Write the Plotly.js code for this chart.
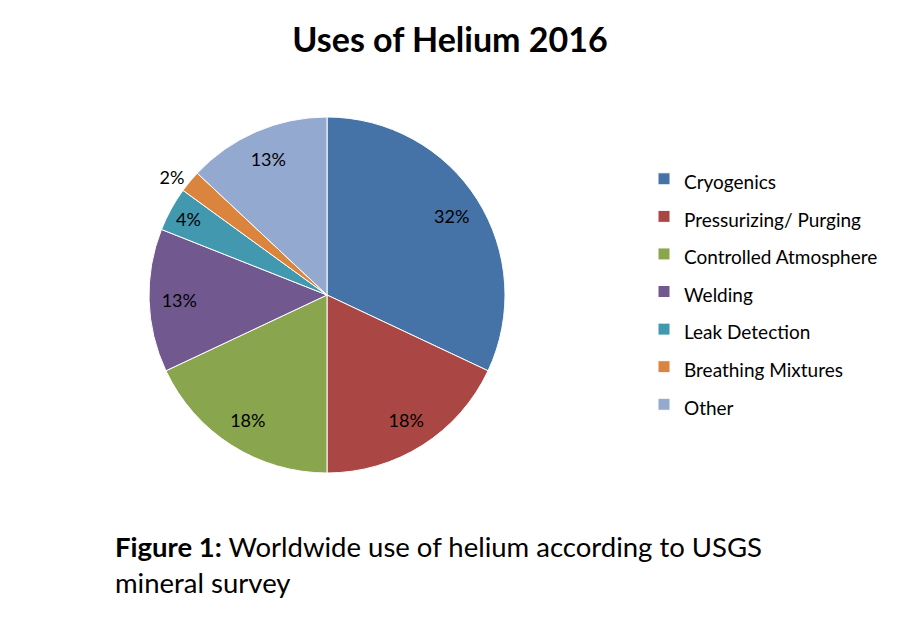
<!DOCTYPE html>
<html>
<head>
<meta charset="utf-8">
<script src="https://cdn.plot.ly/plotly-3.0.1.min.js"></script>
<style>html,body{margin:0;padding:0;background:#fff;}#chart{width:900px;height:618px;}</style>
</head>
<body>
<div id="chart"></div>
<script>
const categories = ["Cryogenics", "Pressurizing/ Purging", "Controlled Atmosphere", "Welding", "Leak Detection", "Breathing Mixtures", "Other"];
const shares = [32, 18, 18, 13, 4, 2, 13];
const colors = ["#4572A7", "#AA4643", "#89A54E", "#71588F", "#4198AF", "#DB843D", "#93A9CF"];
const labelPositions = ["inside", "inside", "inside", "inside", "inside", "outside", "inside"];

const FONT = "Lato, 'Open Sans', sans-serif";
const DOMAIN = {x: [149/900, 505/900], y: [1 - 473/618, 1 - 117/618]};

// Filled slices + legend
const slices = {
  type: "pie",
  labels: categories.map(c => '<span style="font-size:19px">' + c + '</span>'),
  values: shares,
  sort: false,
  direction: "clockwise",
  rotation: 0,
  marker: {colors: colors, line: {color: "#ffffff", width: 1}},
  textinfo: "none",
  domain: DOMAIN,
  hoverinfo: "label+percent"
};

// Transparent ring carrying the percentage labels (places them near the rim like the original)
const labelRing = {
  type: "pie",
  labels: categories,
  values: shares,
  sort: false,
  direction: "clockwise",
  rotation: 0,
  hole: 0.66,
  showlegend: false,
  marker: {colors: categories.map(() => "rgba(0,0,0,0)"), line: {width: 0}},
  texttemplate: "%{value}%",
  textposition: labelPositions,
  insidetextorientation: "horizontal",
  textfont: {family: FONT, size: 18, color: "#000000"},
  outsidetextfont: {family: FONT, size: 18, color: "#000000"},
  domain: DOMAIN,
  hoverinfo: "skip"
};

const layout = {
  width: 900, height: 618,
  margin: {l: 0, r: 0, t: 0, b: 0},
  paper_bgcolor: "#ffffff",
  plot_bgcolor: "#ffffff",
  showlegend: true,
  uniformtext: {minsize: 18, mode: "show"},
  title: {text: "<b>Uses of Helium 2016</b>", font: {family: FONT, size: 34, color: "#000000"}, x: 0.5, xanchor: "center", y: 1 - 40/618, yanchor: "middle"},
  legend: {
    x: 644/900, xanchor: "left", y: 1 - 155/618, yanchor: "top",
    font: {family: FONT, size: 26.6, color: "#000000"},
    itemclick: false, itemdoubleclick: false,
    bgcolor: "rgba(0,0,0,0)"
  },
  annotations: [{
    xref: "paper", yref: "paper",
    x: 113/900, xanchor: "left",
    y: 1 - 528/618, yanchor: "top",
    align: "left",
    showarrow: false,
    text: "<b>Figure 1:</b> Worldwide use of helium according to USGS<br>mineral survey",
    font: {family: FONT, size: 27.5, color: "#000000"}
  }]
};

Plotly.newPlot("chart", [slices, labelRing], layout, {displayModeBar: false, staticPlot: true});
</script>
</body>
</html>
